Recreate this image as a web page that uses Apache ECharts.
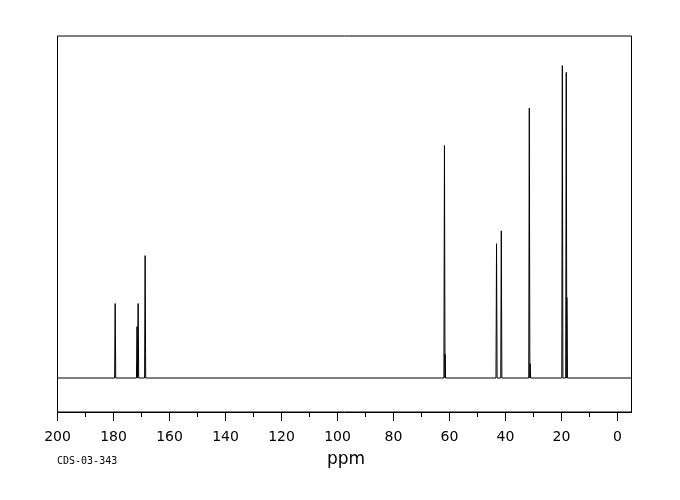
<!DOCTYPE html>
<html>
<head>
<meta charset="utf-8">
<script src="https://cdn.jsdelivr.net/npm/echarts@6/dist/echarts.min.js"></script>
<style>
html,body{margin:0;padding:0;background:#fff;}
#chart{width:680px;height:500px;}
</style>
</head>
<body>
<div id="chart"></div>
<script>
// Peak positions (ppm) and relative intensities
const peakPpm    = [179.4, 171.6, 171.2, 168.7, 61.8, 61.6, 43.2, 41.5, 31.5, 31.2, 19.7, 18.3, 18.1];
const peakHeight = [21.9,  15.1,  21.9,  36.0,  68.4, 7.1,  39.5, 43.3, 79.4, 4.2,  91.9, 89.9, 23.7];
const majorTicks = [0, 20, 40, 60, 80, 100, 120, 140, 160, 180, 200];
const minorTicks = [0, 10, 20, 30, 40, 50, 60, 70, 80, 90, 100, 110, 120, 130, 140, 150, 160, 170, 180, 190, 200];
const xRange = [-5, 200];
const sampleCode = 'CDS-03-343';
const xTitle = 'ppm';

// Build the stick spectrum from the peak list
const halfWidth = 0.2;
const order = peakPpm.map((p, i) => i).sort((a, b) => peakPpm[b] - peakPpm[a]);
const spectrum = [[xRange[1], 0]];
order.forEach(i => {
  spectrum.push([peakPpm[i] + halfWidth, 0]);
  spectrum.push([peakPpm[i], peakHeight[i]]);
  spectrum.push([peakPpm[i] - halfWidth, 0]);
});
spectrum.push([xRange[0], 0]);

const chart = echarts.init(document.getElementById('chart'), null, {renderer: 'canvas'});
const labelFont = {color: '#000', fontSize: 14, fontFamily: 'DejaVu Sans'};
chart.setOption({
  animation: false,
  backgroundColor: '#fff',
  grid: {
    left: 57.5, right: 48.5, top: 36, bottom: 88,
    show: true, borderColor: '#000', borderWidth: 1, backgroundColor: 'transparent'
  },
  xAxis: [
    {
      type: 'value', inverse: true, min: xRange[0], max: xRange[1], position: 'bottom',
      axisLine: {show: true, onZero: false, lineStyle: {color: '#000', width: 1}},
      axisTick: {show: true, length: 9, lineStyle: {color: '#000'}, customValues: majorTicks},
      axisLabel: {show: true, margin: 18, customValues: majorTicks, ...labelFont},
      splitLine: {show: false}
    },
    {
      type: 'value', inverse: true, min: xRange[0], max: xRange[1], position: 'bottom', offset: 0,
      axisLine: {show: false, onZero: false},
      axisTick: {show: true, length: 5, lineStyle: {color: '#000'}, customValues: minorTicks},
      axisLabel: {show: false},
      splitLine: {show: false}
    }
  ],
  yAxis: {
    type: 'value', min: -10, max: 100.6, show: false, splitLine: {show: false}
  },
  series: [{
    type: 'line', xAxisIndex: 0, data: spectrum, showSymbol: false, symbol: 'none',
    lineStyle: {color: '#000', width: 1}, silent: true
  }],
  graphic: [
    {type: 'text', left: 57, top: 456, style: {text: sampleCode, fill: '#000', fontSize: 10, fontFamily: 'DejaVu Sans Mono'}},
    {type: 'text', left: 327, top: 451, style: {text: xTitle, fill: '#000', fontSize: 17, fontFamily: 'DejaVu Sans'}}
  ]
});
</script>
</body>
</html>
